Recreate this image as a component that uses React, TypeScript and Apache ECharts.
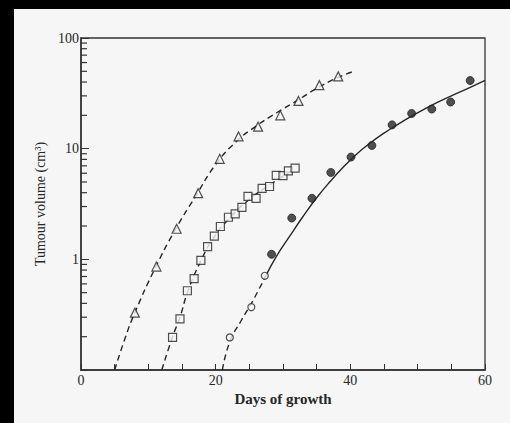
import React, { useEffect, useRef } from "react";
import * as echarts from "echarts";

const xTickLabels = [0, 20, 40, 60];
const yMinorTicks = [0.2, 0.3, 0.4, 0.5, 0.6, 0.7, 0.8, 0.9, 2, 3, 4, 5, 6, 7, 8, 9, 20, 30, 40, 50, 60, 70, 80, 90];

const triangles: [number, number][] = [
  [8.0, 0.33], [11.2, 0.86], [14.2, 1.89], [17.4, 3.96], [20.6, 8.1], [23.4, 12.9],
  [26.3, 15.8], [29.6, 20], [32.3, 27], [35.4, 37.5], [38.2, 45],
];
const squares: [number, number][] = [
  [13.6, 0.197], [14.7, 0.29], [15.8, 0.52], [16.8, 0.67], [17.8, 0.98], [18.8, 1.3],
  [19.8, 1.62], [20.7, 1.98], [21.9, 2.4], [22.9, 2.57], [23.9, 2.95], [24.8, 3.7],
  [26.0, 3.56], [26.9, 4.37], [28.0, 4.55], [29.0, 5.74], [30.0, 5.7], [30.8, 6.3], [31.8, 6.67],
];
const openCircles: [number, number][] = [[22.1, 0.197], [25.3, 0.37], [27.3, 0.71]];
const filledCircles: [number, number][] = [
  [28.3, 1.11], [31.3, 2.36], [34.3, 3.56], [37.1, 6.1], [40.1, 8.4], [43.2, 10.7],
  [46.2, 16.4], [49.1, 20.8], [52.1, 22.8], [54.9, 26.4], [57.8, 41.3],
];

const triangleCurve: [number, number][] = [
  [5.0, 0.1], [6.5, 0.19], [8, 0.33], [11, 0.83], [14, 1.85], [17, 3.7], [20, 7.2],
  [23, 11.5], [26, 16], [29, 21], [32, 27], [35, 35], [38, 43.5], [40.5, 50],
];
const squareCurve: [number, number][] = [
  [12.0, 0.1], [13.6, 0.2], [14.7, 0.3], [15.8, 0.5], [17.8, 0.97], [19.8, 1.6],
  [21.9, 2.3], [24.8, 3.4], [28, 4.7], [31.8, 6.6],
];
const circleDashedCurve: [number, number][] = [[21.0, 0.1], [22.1, 0.18], [23.8, 0.28], [25.5, 0.42], [27.5, 0.72]];
const solidCurve: [number, number][] = [
  [27.5, 0.72], [29, 1.06], [31, 1.62], [33, 2.45], [35, 3.6], [37, 5.05], [39, 6.85],
  [41, 9.0], [43, 11.3], [45, 13.8], [47, 16.5], [49, 19.5], [51, 22.8], [53, 26.3],
  [55, 30.0], [57, 34.0], [60, 41.5],
];

const INK = "#262626";
const PAPER = "#f6f6f6";
const FONT = "Liberation Serif";

export default function App() {
  const ref = useRef<HTMLDivElement>(null);
  useEffect(() => {
    if (!ref.current) return;
    const chart = echarts.init(ref.current, undefined, { renderer: "svg" });
    const dashed = { color: INK, width: 1.4, type: [6, 4] as number[] };
    const curve = { type: "line", smooth: 0.5, showSymbol: false, silent: true, z: 2 };
    chart.setOption({
      animation: false,
      backgroundColor: PAPER,
      grid: { left: 81, right: 25, top: 38, bottom: 53, show: true, borderColor: "#333", borderWidth: 1.3, backgroundColor: "transparent" },
      xAxis: {
        type: "value",
        min: 0,
        max: 60,
        interval: 5,
        name: "Days of growth",
        nameLocation: "middle",
        nameGap: 20,
        nameTextStyle: { fontFamily: FONT, fontSize: 15, fontWeight: "bold", color: INK },
        axisLine: { lineStyle: { color: "#333", width: 1.5 } },
        axisTick: { inside: true, length: 6, lineStyle: { color: "#333" } },
        axisLabel: {
          fontFamily: FONT, fontSize: 14, color: INK, margin: 3,
          formatter: (v: number) => (xTickLabels.includes(v) ? String(v) : ""),
        },
        splitLine: { show: false },
      },
      yAxis: {
        type: "log",
        logBase: 10,
        min: 0.1,
        max: 100,
        name: "Tumour volume (cm³)",
        nameLocation: "middle",
        nameGap: 32,
        nameTextStyle: { fontFamily: FONT, fontSize: 14, color: INK },
        axisLine: { lineStyle: { color: "#333", width: 1.5 } },
        axisTick: { inside: true, length: 8, lineStyle: { color: "#333" } },
        axisLabel: {
          fontFamily: FONT, fontSize: 14, color: INK, margin: 2,
          formatter: (v: number) => (v < 0.5 ? "" : String(Math.round(v))),
        },
        splitLine: { show: false },
      },
      series: [
        {
          type: "custom",
          silent: true,
          clip: false,
          data: yMinorTicks.map((v) => [0, v]),
          renderItem: (_p: any, api: any) => {
            const pt = api.coord([api.value(0), api.value(1)]);
            return {
              type: "line",
              shape: { x1: pt[0], y1: pt[1], x2: pt[0] + 6, y2: pt[1] },
              style: { stroke: "#333", lineWidth: 1.2 },
            };
          },
          z: 1,
        },
        { ...curve, data: triangleCurve, lineStyle: dashed },
        { ...curve, data: squareCurve, lineStyle: dashed },
        { ...curve, data: circleDashedCurve, lineStyle: dashed },
        { ...curve, data: solidCurve, lineStyle: { color: INK, width: 1.4 } },
        {
          type: "scatter", data: triangles, symbol: "triangle", symbolSize: 9,
          itemStyle: { color: PAPER, borderColor: INK, borderWidth: 1.2 }, z: 3,
        },
        {
          type: "scatter", data: squares, symbol: "rect", symbolSize: 8,
          itemStyle: { color: PAPER, borderColor: INK, borderWidth: 1.2 }, z: 3,
        },
        {
          type: "scatter", data: openCircles, symbol: "circle", symbolSize: 7,
          itemStyle: { color: PAPER, borderColor: INK, borderWidth: 1.2 }, z: 3,
        },
        {
          type: "scatter", data: filledCircles, symbol: "circle", symbolSize: 8,
          itemStyle: { color: INK, borderColor: INK, borderWidth: 1 }, z: 3,
        },
      ],
    });
    return () => chart.dispose();
  }, []);
  return (
    <div style={{ position: "fixed", left: 0, top: 0, width: 510, height: 423, background: PAPER, overflow: "hidden" }}>
      <div ref={ref} style={{ position: "absolute", left: 0, top: 0, width: 510, height: 423 }} />
      <div style={{ position: "absolute", left: 0, top: 0, width: 510, height: 9, background: "#000" }} />
      <div style={{ position: "absolute", left: 0, top: 0, width: 14, height: 423, background: "#000" }} />
    </div>
  );
}
